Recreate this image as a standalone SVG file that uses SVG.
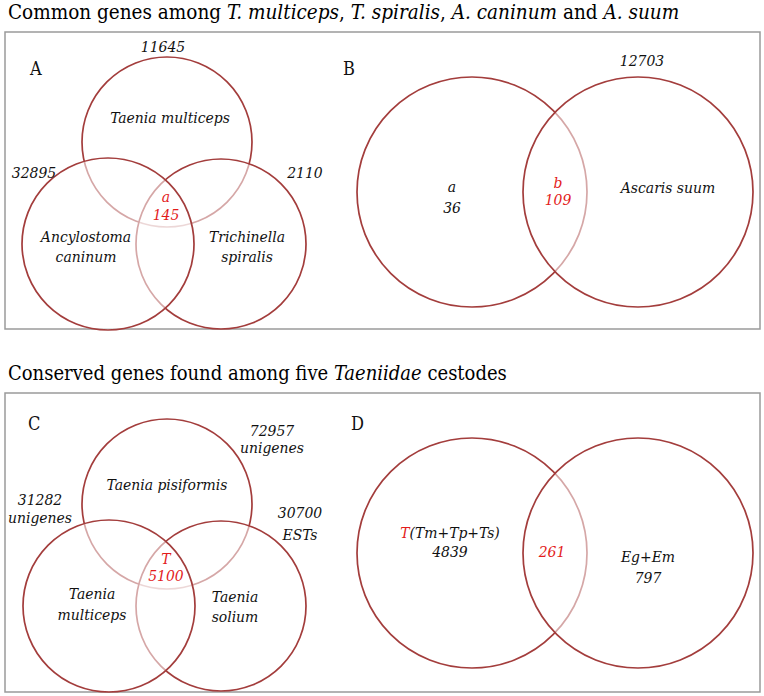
<svg xmlns="http://www.w3.org/2000/svg" width="764" height="696" viewBox="0 0 764 696">
<style>
text{font-family:'DejaVu Serif Condensed','DejaVu Serif',serif}
.title{font-size:20px;fill:#000}
.it{font-style:italic}
.panel{fill:none;stroke:#9a9a9a;stroke-width:1.5}
.c{fill:#fff;fill-opacity:0.55;stroke:#a33d3c;stroke-width:1.7}
.lbl{font-size:15.5px;font-style:italic;fill:#111;text-anchor:middle}
.let{font-size:18px;fill:#111}
.red{fill:#e31b1b}
</style>
<rect width="764" height="696" fill="#fff"/>
<text class="title" x="8" y="19" style="font-size:20.5px">Common genes among <tspan class="it">T. multiceps</tspan>, <tspan class="it">T. spiralis</tspan>, <tspan class="it">A. caninum</tspan> and <tspan class="it">A. suum</tspan></text>
<text class="title" x="8" y="380">Conserved genes found among five <tspan class="it">Taeniidae</tspan> cestodes</text>
<rect class="panel" x="5" y="32" width="755" height="297"/>
<rect class="panel" x="5" y="393" width="755" height="299"/>

<g id="panelA">
<text class="let" x="30" y="75">A</text>
<g id="A-tm"><circle class="c" cx="167" cy="142" r="85"/></g>
<g id="A-ts"><circle class="c" cx="221" cy="244" r="85"/></g>
<g id="A-ac"><circle class="c" cx="108" cy="244" r="86"/></g>
<text class="lbl" x="170" y="123">Taenia multiceps</text>
<text class="lbl" x="163" y="52">11645</text>
<text class="lbl" x="34" y="178">32895</text>
<text class="lbl" x="305" y="178">2110</text>
<text class="lbl red" x="166" y="202">a</text>
<text class="lbl red" x="166" y="220">145</text>
<text class="lbl" x="86" y="242">Ancylostoma</text>
<text class="lbl" x="86" y="262">caninum</text>
<text class="lbl" x="247" y="242">Trichinella</text>
<text class="lbl" x="247" y="262">spiralis</text>
</g>

<g id="panelB">
<text class="let" x="343" y="75">B</text>
<g id="B-a"><circle class="c" cx="472" cy="192" r="115"/></g>
<g id="B-as"><circle class="c" cx="638" cy="192" r="115"/></g>
<text class="lbl" x="642" y="66">12703</text>
<text class="lbl" x="452" y="192">a</text>
<text class="lbl" x="452" y="213">36</text>
<text class="lbl red" x="558" y="188">b</text>
<text class="lbl red" x="558" y="205">109</text>
<text class="lbl" x="668" y="193">Ascaris suum</text>
</g>

<g id="panelC">
<text class="let" x="28" y="430">C</text>
<g id="C-tp"><circle class="c" cx="167" cy="504" r="85"/></g>
<g id="C-ts"><circle class="c" cx="221" cy="606" r="85"/></g>
<g id="C-tm"><circle class="c" cx="109" cy="606" r="86"/></g>
<text class="lbl" x="272" y="436">72957</text>
<text class="lbl" x="272" y="453">unigenes</text>
<text class="lbl" x="167" y="490">Taenia pisiformis</text>
<text class="lbl" x="40" y="505">31282</text>
<text class="lbl" x="40" y="523">unigenes</text>
<text class="lbl" x="300" y="518">30700</text>
<text class="lbl" x="300" y="540">ESTs</text>
<text class="lbl red" x="166" y="564">T</text>
<text class="lbl red" x="166" y="581">5100</text>
<text class="lbl" x="92" y="599">Taenia</text>
<text class="lbl" x="92" y="620">multiceps</text>
<text class="lbl" x="235" y="602">Taenia</text>
<text class="lbl" x="235" y="622">solium</text>
</g>

<g id="panelD">
<text class="let" x="351" y="430">D</text>
<g id="D-t"><circle class="c" cx="472" cy="553" r="115"/></g>
<g id="D-e"><circle class="c" cx="638" cy="553" r="115"/></g>
<text class="lbl" x="450" y="538"><tspan class="red">T</tspan>(Tm+Tp+Ts)</text>
<text class="lbl" x="450" y="557">4839</text>
<text class="lbl red" x="552" y="557">261</text>
<text class="lbl" x="648" y="562">Eg+Em</text>
<text class="lbl" x="648" y="583">797</text>
</g>
<g id="connectors"/>
</svg>
